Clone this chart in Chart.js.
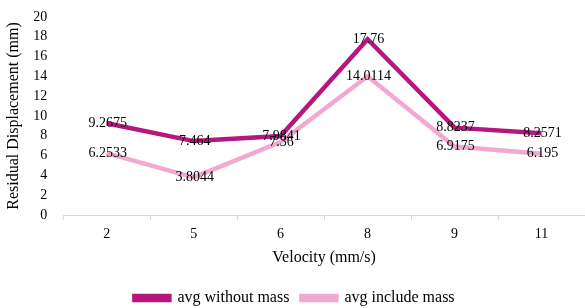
<!DOCTYPE html>
<html>
<head>
<meta charset="utf-8">
<script src="https://cdn.jsdelivr.net/npm/chart.js@4"></script>
<style>
  html, body { margin: 0; padding: 0; background: #fff; }
  #wrap { width: 585px; height: 308px; }
</style>
</head>
<body>
<div id="wrap"><canvas id="chart"></canvas></div>
<script>
const velocities = ['2', '5', '6', '8', '9', '11'];
const withoutMass = [9.2675, 7.464, 7.9841, 17.76, 8.8237, 8.2571];
const includeMass = [6.2533, 3.8044, 7.36, 14.0114, 6.9175, 6.195];
const yTicks = [0, 2, 4, 6, 8, 10, 12, 14, 16, 18, 20];

const FONT = "'Liberation Serif', 'Times New Roman', serif";

// draws the value of each point on top of it
const valueLabels = {
    id: 'valueLabels',
    afterDatasetsDraw(chart) {
        const ctx = chart.ctx;
        ctx.save();
        ctx.font = '14px ' + FONT;
        ctx.fillStyle = '#000';
        ctx.textAlign = 'center';
        ctx.textBaseline = 'middle';
        chart.data.datasets.forEach((ds, i) => {
            const meta = chart.getDatasetMeta(i);
            meta.data.forEach((pt, j) => {
                ctx.fillText(String(ds.data[j]), pt.x + 1, pt.y);
            });
        });
        ctx.restore();
    }
};

const ctx = document.getElementById('chart').getContext('2d');
new Chart(ctx, {
    type: 'line',
    data: {
        labels: velocities,
        datasets: [
            {
                label: 'avg without mass',
                data: withoutMass,
                borderColor: '#b5177f',
                backgroundColor: '#b5177f',
                borderWidth: 4.5,
                pointRadius: 0,
                tension: 0
            },
            {
                label: 'avg include mass',
                data: includeMass,
                borderColor: '#f3a8d2',
                backgroundColor: '#f3a8d2',
                borderWidth: 4.5,
                pointRadius: 0,
                tension: 0
            }
        ]
    },
    options: {
        responsive: true,
        maintainAspectRatio: false,
        animation: false,
        layout: { padding: { top: 17, right: 0, left: 4, bottom: -8 } },
        plugins: {
            legend: {
                position: 'bottom',
                labels: {
                    font: { family: FONT, size: 16 },
                    color: '#000',
                    boxWidth: 35,
                    boxHeight: 4,
                    padding: 12
                }
            },
            tooltip: { enabled: false }
        },
        scales: {
            x: {
                offset: true,
                grid: {
                    offset: true,
                    drawOnChartArea: false,
                    drawTicks: true,
                    tickLength: 5,
                    color: '#d9d9d9'
                },
                border: { color: '#d9d9d9', width: 1 },
                ticks: { font: { family: FONT, size: 14 }, color: '#000', padding: 6 },
                title: {
                    display: true,
                    text: 'Velocity (mm/s)',
                    font: { family: FONT, size: 16 },
                    color: '#000',
                    padding: { top: -1, bottom: 11 }
                }
            },
            y: {
                min: 0,
                max: 20,
                afterBuildTicks: (axis) => { axis.ticks = yTicks.map(v => ({ value: v })); },
                grid: { display: false },
                border: { display: false },
                ticks: { font: { family: FONT, size: 14 }, color: '#000', padding: 8, autoSkip: false },
                title: {
                    display: true,
                    text: 'Residual Displacement (mm)',
                    font: { family: FONT, size: 16 },
                    color: '#000',
                    padding: { top: 0, bottom: 2 }
                }
            }
        }
    },
    plugins: [valueLabels]
});
</script>
</body>
</html>
